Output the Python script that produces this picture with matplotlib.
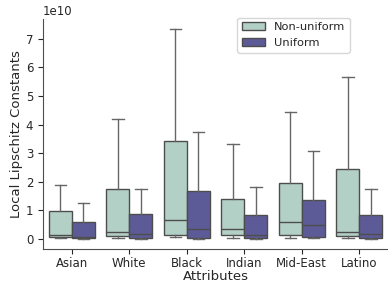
import numpy as np
import matplotlib
matplotlib.use("Agg")
import matplotlib.pyplot as plt
from matplotlib.patches import Patch

# values in units of 1e10
attributes = ["Asian", "White", "Black", "Indian", "Mid-East", "Latino"]
groups = ["Non-uniform", "Uniform"]
colors = ["#b3d0c7", "#5d5b97"]

# per attribute: [whislo, q1, med, q3, whishi]
nonuniform = [
    [0.04, 0.07, 0.15, 0.98, 1.90],
    [0.04, 0.10, 0.24, 1.74, 4.20],
    [0.05, 0.14, 0.67, 3.41, 7.33],
    [0.04, 0.13, 0.35, 1.41, 3.32],
    [0.04, 0.12, 0.59, 1.94, 4.44],
    [0.04, 0.10, 0.24, 2.45, 5.67],
]
uniform = [
    [0.01, 0.02, 0.08, 0.59, 1.25],
    [0.01, 0.02, 0.16, 0.86, 1.75],
    [0.01, 0.03, 0.34, 1.66, 3.73],
    [0.01, 0.02, 0.12, 0.82, 1.80],
    [0.03, 0.08, 0.48, 1.37, 3.08],
    [0.01, 0.03, 0.17, 0.82, 1.75],
]

text_c = "#262626"
line_c = "#4d4d4d"
plt.rcParams["font.family"] = "DejaVu Sans"
plt.rcParams["text.color"] = text_c
plt.rcParams["axes.labelcolor"] = text_c
plt.rcParams["xtick.color"] = text_c
plt.rcParams["ytick.color"] = text_c

fig = plt.figure(figsize=(3.88, 2.84), dpi=100)
ax = fig.add_axes([0.111, 0.123, 0.889, 0.81])

def to_stats(rows):
    out = []
    for r in rows:
        out.append(dict(whislo=r[0] * 1e10, q1=r[1] * 1e10, med=r[2] * 1e10,
                        q3=r[3] * 1e10, whishi=r[4] * 1e10, fliers=[]))
    return out

x = np.arange(len(attributes))
w = 0.4
for i, (data, col) in enumerate(zip([nonuniform, uniform], colors)):
    pos = x - w / 2 + i * w
    ax.bxp(to_stats(data), positions=pos, widths=w, patch_artist=True,
           showfliers=False,
           boxprops=dict(facecolor=col, edgecolor=line_c, linewidth=1.0),
           medianprops=dict(color=line_c, linewidth=1.0),
           whiskerprops=dict(color="#666666", linewidth=1.0),
           capprops=dict(color="#666666", linewidth=1.0),
           capwidths=w / 2)

ax.set_xlim(-0.5, 5.5)
ax.set_xticks(x)
ax.set_xticklabels(attributes, fontsize=8.5)
ax.tick_params(axis="x", pad=2)
ax.tick_params(axis="y", labelsize=8.5)
ax.set_xlabel("Attributes", fontsize=9.5, labelpad=0)
ax.set_ylabel("Local Lipschitz Constants", fontsize=9.5, labelpad=2)
ax.yaxis.get_offset_text().set_fontsize(8.5)
ax.margins(y=0.05)
ax.autoscale(axis="y")
for s in ["top", "right"]:
    ax.spines[s].set_visible(False)
for s in ["left", "bottom"]:
    ax.spines[s].set_color(line_c)

handles = [Patch(facecolor=c, edgecolor=line_c, label=g) for g, c in zip(groups, colors)]
ax.legend(handles=handles, loc="upper right", bbox_to_anchor=(0.905, 1.03), fontsize=8.2)

fig.savefig("out.png", dpi=100)
